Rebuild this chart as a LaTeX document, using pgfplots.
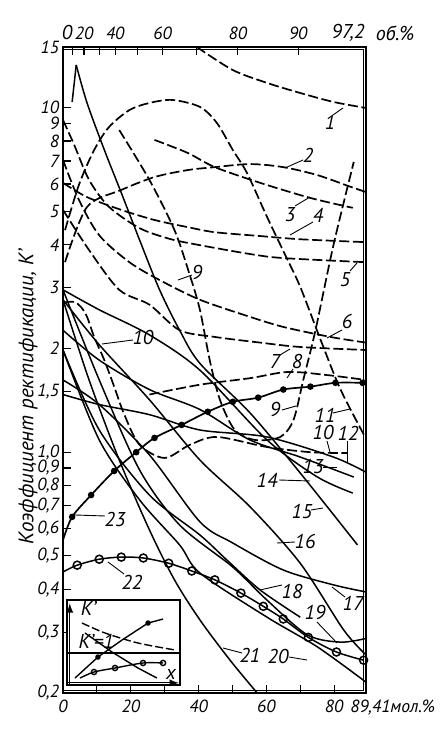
\documentclass[border=0pt]{standalone}
\usepackage{fontspec}
\setmainfont{PT Sans}
\usepackage{pgfplots}
\pgfplotsset{compat=1.18}
\newcommand\lf{\fontsize{8.8}{9}\selectfont\itshape}
\newcommand\nf{\fontsize{10}{11}\selectfont\itshape}
\newcommand\lab[3]{\node[font=\nf,inner sep=0pt] at ({(#1-63)*0.5pt},{(693-#2)*0.5pt}) {#3};}
\newcommand\ld[4]{\draw[line width=0.45pt] ({(#1-63)*0.5pt},{(693-#2)*0.5pt}) -- ({(#3-63)*0.5pt},{(693-#4)*0.5pt});}
\pgfplotsset{
  dsh/.style={black, line width=0.85pt, dash pattern=on 5pt off 1.8pt, smooth, tension=0.5, no markers},
  sld/.style={black, line width=0.75pt, smooth, tension=0.5, no markers},
}
\begin{document}
\begin{tikzpicture}
\path[use as bounding box] (-31.5pt,-18pt) rectangle (191pt,346.5pt);
\begin{axis}[
  at={(0pt,0pt)}, anchor=south west,
  scale only axis, width=151.5pt, height=323pt,
  xmin=0, xmax=89.41, ymode=log, ymin=0.2, ymax=15,
  axis line style={line width=1pt},
  tick align=inside, major tick length=4pt,
  tick style={line width=0.6pt, black},
  xtick pos=bottom, ytick pos=left,
  xtick={0,10,...,80}, xticklabels={0,,20,,40,,60,,80},
  ytick={0.2,0.3,0.4,0.5,0.6,0.7,0.8,0.9,1,1.5,2,3,4,5,6,7,8,9,10,15},
  yticklabels={{0,2},{0,3},{0,4},{0,5},{0,6},{0,7},{0,8},{0,9},{1,0},{1,5},2,3,4,5,6,7,8,9,10,15},
  yminorticks=false,
  tick label style={font=\lf},
  yticklabel style={inner sep=0.3pt, xshift=-1.5pt},
  ylabel={Коэффициент ректификации, K'},
  ylabel style={font=\fontsize{10.5}{12}\selectfont\itshape, at={(axis description cs:-0.115,0.458)}, anchor=center},
  clip=true,
]
% 1
\addplot[dsh] coordinates {(39.5,15.0)(50.1,12.86)(60.2,11.8)(70.0,11.03)(79.8,10.39)(89.41,9.98)};
% 2
\addplot[dsh] coordinates {(0.6,3.56)(7.1,5.15)(17.2,5.77)(27.0,6.29)(36.8,6.59)(44.8,6.72)(55.2,6.86)(65.0,6.72)(75.1,6.37)(84.9,5.89)(89.41,5.69)};
% 3
\addplot[dsh] coordinates {(27.0,8.06)(36.8,7.39)(44.8,6.72)(58.2,6.05)(73.0,5.47)(85.5,5.12)};
% 4
\addplot[dsh] coordinates {(0,6.05)(7.1,5.50)(17.2,5.05)(27.0,4.72)(36.8,4.50)(44.8,4.35)(58.2,4.24)(70.0,4.15)(89.41,4.07)};
% 5
\addplot[dsh] coordinates {(0,9.21)(3.3,7.80)(7.7,6.17)(13.6,5.15)(22.6,4.47)(31.5,4.16)(40.4,3.99)(55.2,3.76)(65.0,3.66)(89.41,3.56)};
% 6
\addplot[dsh] coordinates {(0,7.05)(4.7,5.40)(10.7,4.26)(19.6,3.56)(28.5,3.16)(40.4,2.77)(55.2,2.47)(65.0,2.31)(78.9,2.16)(89.41,2.08)};
% 7
\addplot[dsh] coordinates {(0,5.05)(7.7,3.86)(16.6,2.96)(25.5,2.68)(34.4,2.26)(44.8,2.16)(58.2,2.08)(70.0,2.02)(89.41,1.98)};
% 8
\addplot[dsh] coordinates {(25.5,1.47)(40.4,1.57)(55.2,1.64)(66.5,1.71)(78.9,1.67)(89.41,1.62)};
% 9
\addplot[dsh] coordinates {(16.6,8.61)(25.5,6.17)(32.9,4.41)(37.4,3.27)(40.4,2.59)(43.3,1.85)(46.3,1.42)(50.7,1.16)(56.7,1.085)(64.1,1.107)(68.0,1.24)(70.9,1.62)(74.5,2.26)(79.8,3.99)(85.8,6.96)};
% 10
\addplot[dsh] coordinates {(0.3,2.72)(3.3,2.73)(5.3,2.64)(7.1,2.47)(9.2,2.16)(12.2,1.85)(15.1,1.55)(18.1,1.285)(22.6,1.05)(30.0,0.962)(37.4,1.05)(45.4,1.107)(60.2,1.035)(73.0,1.0)(84.0,0.994)};
% 11
\addplot[dsh] coordinates {(0.6,4.41)(4.7,5.97)(9.2,7.54)(13.6,8.79)(19.6,9.84)(25.5,10.32)(32.3,10.53)(40.4,10.05)(45.4,9.03)(50.1,7.54)(54.3,6.46)(60.2,4.82)(65.6,3.73)(70.0,3.02)(76.0,2.12)(81.9,1.52)(89.3,1.10)};
% 12
\addplot[sld] coordinates {(0,1.47)(10.7,1.375)(25.5,1.285)(40.4,1.16)(60.2,1.107)(79.8,0.968)(89.3,0.876)};
% 13
\addplot[sld] coordinates {(0,2.26)(10.7,1.85)(25.5,1.52)(40.4,1.33)(55.2,1.085)(70.0,0.968)(85.8,0.847)};
% 14
\addplot[sld] coordinates {(0,2.96)(10.7,2.59)(25.5,2.19)(40.4,1.73)(60.2,1.085)(75.1,0.847)(85.5,0.761)};
% 15
\addplot[black, line width=0.75pt] coordinates {(2.7,10.39)(3.9,13.3)};
\addplot[sld] coordinates {(3.9,13.3)(7.1,10.32)(12.2,7.54)(17.2,5.66)(22.6,4.13)(28.5,2.96)(34.4,2.26)(40.4,1.81)(55.2,1.30)(70.0,0.870)(86.9,0.538)};
% 16
\addplot[sld] coordinates {(0,2.77)(10.7,2.05)(25.5,1.42)(40.4,0.949)(55.2,0.694)(70.0,0.476)(82.8,0.305)(89.41,0.258)};
% 17
\addplot[sld] coordinates {(0,1.62)(10.7,1.375)(25.5,0.982)(40.4,0.628)(50.1,0.545)(65.0,0.455)(79.8,0.412)(89.41,0.393)};
% 18
\addplot[sld] coordinates {(0,1.98)(10.7,1.16)(25.5,0.751)(40.4,0.575)(48.4,0.486)(58.2,0.398)(70.0,0.332)};
% 19
\addplot[sld] coordinates {(0,2.96)(10.7,1.62)(22.6,0.888)(34.4,0.615)(50.1,0.464)(60.2,0.372)(72.1,0.295)(81.9,0.281)(89.41,0.288)};
% 20
\addplot[sld] coordinates {(0,1.98)(10.7,1.085)(22.6,0.727)(34.4,0.538)(40.4,0.446)(60.2,0.332)(75.1,0.272)(89.41,0.215)};
% 21
\addplot[sld] coordinates {(0,2.77)(7.7,1.62)(16.6,0.949)(25.5,0.595)(32.9,0.426)(40.4,0.326)(49.3,0.249)(57.3,0.20)};
% 22
\addplot[black, line width=0.75pt, smooth, tension=0.5, mark=o, mark size=2pt, mark options={solid, fill=white}, mark indices={2,...,14}] coordinates {(0,0.449)(4.2,0.470)(10.7,0.489)(17.2,0.496)(23.7,0.493)(31.2,0.476)(38.0,0.452)(44.8,0.426)(52.5,0.390)(59.1,0.357)(65.0,0.328)(72.4,0.29)(80.7,0.263)(88.7,0.249)};
% 23
\addplot[black, line width=0.85pt, smooth, tension=0.5, mark=*, mark size=1.2pt, mark indices={2,...,14}] coordinates {(0,0.556)(2.7,0.649)(8.3,0.751)(15.1,0.882)(21.6,1.0)(27.0,1.10)(35.0,1.20)(42.7,1.31)(50.1,1.40)(57.6,1.44)(65.0,1.52)(73.0,1.55)(80.4,1.59)(88.4,1.59)};
\end{axis}
% top volume-percent axis
\begin{axis}[
  at={(0pt,0pt)}, anchor=south west,
  scale only axis, width=151.5pt, height=323pt,
  xmin=0, xmax=89.41, ymin=0, ymax=1,
  axis x line*=top, axis y line=none,
  axis line style={line width=1pt},
  tick align=inside, major tick length=4pt,
  tick style={line width=0.6pt, black},
  xtick={2.7,6.2,10.7,15.4,22.0,29.4,39.5,51.6,69.4},
  xticklabels={,20,,40,,60,,80,90},
  tick label style={font=\lf},
]
\addplot[draw=none] coordinates {(0,0)};
\end{axis}
% inner second frame lines (double border)
\draw[line width=0.5pt] (0pt,321.6pt) -- (150.1pt,321.6pt) -- (150.1pt,1.4pt) -- (0pt,1.4pt);
% inset
\begin{axis}[
  at={(2pt,4pt)}, anchor=south west,
  scale only axis, width=56.5pt, height=42.5pt,
  xmin=0, xmax=10, ymin=0, ymax=10,
  xtick=\empty, ytick=\empty,
  axis line style={line width=0.6pt},
  axis background/.style={fill=white},
  clip=false,
]
\addplot[black, line width=0.7pt, dash pattern=on 4pt off 1.5pt, smooth] coordinates {(1.33,7.29)(3.36,6.12)(6.28,4.94)(9.56,4.12)};
\addplot[black, line width=0.7pt, mark=*, mark size=1pt, mark indices={2,4}] coordinates {(0.71,0.82)(2.74,3.29)(4.87,5.29)(7.17,7.29)(8.5,7.76)};
\addplot[black, line width=0.7pt] coordinates {(1.59,6.12)(3.98,3.88)(6.28,2.0)(7.96,0.82)};
\addplot[black, line width=0.7pt, smooth, mark=o, mark size=1.3pt, mark options={fill=white}, mark indices={2,...,5}] coordinates {(1.15,0.82)(2.39,1.53)(4.25,2.0)(6.73,2.59)(8.5,2.59)};
\addplot[black, line width=0.6pt] coordinates {(0,3.76)(10,3.76)};
\draw[-latex, line width=0.6pt] (axis cs:0.25,0) -- (axis cs:0.25,9.6);
\draw[-latex, line width=0.6pt] (axis cs:0,0.25) -- (axis cs:9.9,0.25);
\node[font=\nf, anchor=west] at (axis cs:0.6,9.0) {K'};
\node[font=\nf, anchor=west] at (axis cs:0.4,5.1) {K'=1};
\node[font=\nf] at (axis cs:9.2,1.2) {x};
\end{axis}
% top and bottom extra labels
\lab{67}{33}{0}
\lab{348}{33}{97,2}
\lab{395}{33}{об.\%}
\node[font=\lf, inner sep=0pt, anchor=west] at ({(350-63)*0.5pt},{(693-708)*0.5pt}) {89,41мол.\%};
% curve labels
\lab{330}{122}{1} \ld{333}{115}{343}{108}
\lab{308}{155}{2} \ld{303}{160}{285}{168}
\lab{290}{215}{3} \ld{295}{206}{310}{197}
\lab{318}{215}{4} \ld{313}{222}{290}{235}
\lab{345}{280}{5} \ld{350}{271}{357}{263}
\lab{347}{322}{6} \ld{342}{330}{327}{338}
\lab{275}{362}{7} \ld{280}{355}{290}{349}
\lab{297}{362}{8} \ld{293}{369}{287}{378}
\lab{197}{273}{9} \ld{192}{275}{178}{280}
\lab{275}{410}{9} \ld{282}{410}{296}{406}
\lab{143}{338}{10} \ld{133}{340}{102}{344}
\lab{323}{433}{10} \ld{327}{441}{330}{452}
\lab{325}{415}{11} \ld{333}{413}{350}{409}
\lab{348}{433}{12} \ld{347}{441}{347}{462}
\lab{313}{467}{13} \ld{323}{467}{337}{467}
\lab{267}{480}{14} \ld{279}{480}{310}{481}
\lab{302}{512}{15} \ld{311}{510}{323}{508}
\lab{305}{542}{16} \ld{295}{542}{277}{543}
\lab{353}{603}{17} \ld{345}{597}{332}{587}
\lab{292}{592}{18} \ld{282}{585}{260}{590}
\lab{315}{613}{19} \ld{317}{622}{337}{643}
\lab{278}{657}{20} \ld{289}{657}{307}{660}
\lab{250}{655}{21} \ld{242}{653}{223}{648}
\lab{132}{582}{22} \ld{124}{574}{108}{562}
\lab{115}{520}{23} \ld{105}{516}{75}{515}
\end{tikzpicture}
\end{document}
